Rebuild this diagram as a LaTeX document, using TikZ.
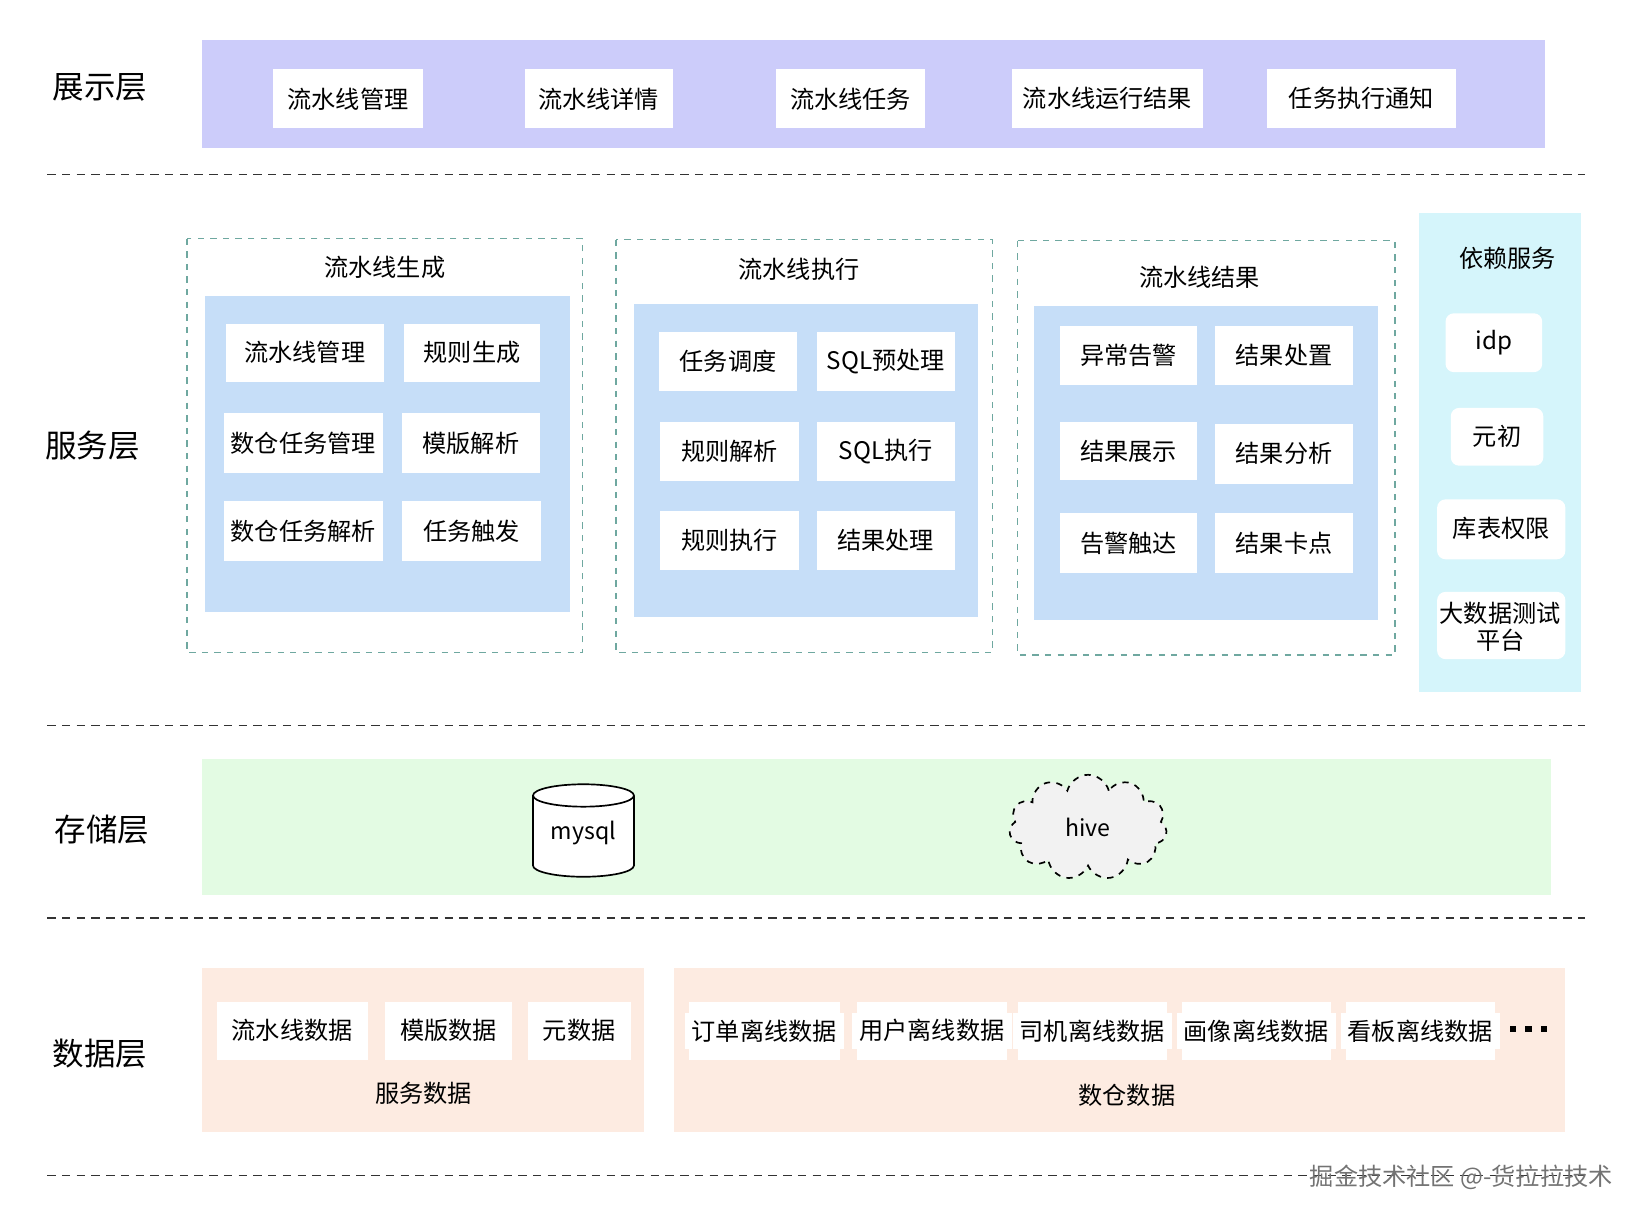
\documentclass[tikz,border=0pt]{standalone}
\usepackage{fontspec}
\setmainfont{Noto Sans CJK SC}
\usetikzlibrary{shapes.geometric,shapes.symbols}
\definecolor{purp}{HTML}{CCCCFA}
\definecolor{lblue}{HTML}{C6DEF8}
\definecolor{cyanp}{HTML}{D5F5FB}
\definecolor{lgreen}{HTML}{E3FBE3}
\definecolor{lorange}{HTML}{FDEBE1}
\definecolor{teal}{HTML}{6FA8A0}
\begin{document}
\begin{tikzpicture}[x=0.5pt,y=-0.5pt,
  wb/.style={fill=white,draw=none,font=\fontsize{11.5}{13}\selectfont},
  layer/.style={font=\fontsize{15}{18}\selectfont},
  ttl/.style={font=\fontsize{11.5}{13}\selectfont},
  sep/.style={dashed,line width=0.7pt,dash pattern=on 4pt off 3pt,black!80},
  grp/.style={draw=teal,dashed,line width=0.6pt}]
\useasboundingbox (0,0) rectangle (1560,1157);
\newcommand{\bx}[6]{\fill[white] (#2,#4) rectangle (#3,#5); \node[wb,align=center] (#1) at ({(#2+#3)/2},{(#4+#5)/2}) {#6};}
% layer 1
\node[layer] (l1) at (95,83) {展示层};
\fill[purp] (192,38) rectangle (1470,141);
\bx{a1}{260}{402}{66}{122}{流水线管理}
\bx{a2}{499}{640}{66}{122}{流水线详情}
\bx{a3}{738}{880}{66}{122}{流水线任务}
\bx{a4}{963}{1144}{66}{122}{流水线运行结果}
\bx{a5}{1205}{1385}{66}{122}{任务执行通知}
\draw[sep] (45,166) -- (1508,166);
% layer 2
\node[layer] (l2) at (88,424) {服务层};
\draw[grp] (178,227) rectangle (554,621);
\draw[grp] (586,228) rectangle (944,621);
\draw[grp] (968,229) rectangle (1327,623);
\node[ttl] (g1) at (366,254) {流水线生成};
\node[ttl] (g2) at (760,256) {流水线执行};
\node[ttl] (g3) at (1141,264) {流水线结果};
\fill[lblue] (195,282) rectangle (542,582);
\fill[lblue] (603,289) rectangle (930,587);
\fill[lblue] (984,291) rectangle (1311,590);
\bx{b1}{215}{365}{308}{363}{流水线管理}
\bx{b2}{384}{514}{308}{363}{规则生成}
\bx{b3}{213}{364}{393}{450}{数仓任务管理}
\bx{b4}{382}{514}{393}{450}{模版解析}
\bx{b5}{213}{364}{477}{534}{数仓任务解析}
\bx{b6}{382}{515}{477}{534}{任务触发}
\bx{c1}{627}{758}{316}{372}{任务调度}
\bx{c2}{777}{908}{316}{372}{SQL预处理}
\bx{c3}{628}{760}{401}{458}{规则解析}
\bx{c4}{777}{908}{401}{458}{SQL执行}
\bx{c5}{628}{760}{486}{542}{规则执行}
\bx{c6}{777}{908}{486}{542}{结果处理}
\bx{d1}{1008}{1139}{310}{366}{异常告警}
\bx{d2}{1156}{1287}{310}{366}{结果处置}
\bx{d3}{1008}{1139}{401}{457}{结果展示}
\bx{d4}{1156}{1287}{403}{460}{结果分析}
\bx{d5}{1008}{1139}{488}{545}{告警触达}
\bx{d6}{1156}{1287}{488}{545}{结果卡点}
\fill[cyanp] (1350,203) rectangle (1504,658);
\node[ttl] (e0) at (1434,246) {依赖服务};
\fill[white,rounded corners=4pt] (1375,298) rectangle (1467,354);
\node[wb] (e1) at (1421,326) {idp};
\fill[white,rounded corners=4pt] (1380,388) rectangle (1468,443);
\node[wb] (e2) at (1424,415) {元初};
\fill[white,rounded corners=4pt] (1367,475) rectangle (1489,532);
\node[wb] (e3) at (1428,503) {库表权限};
\fill[white,rounded corners=4pt] (1367,563) rectangle (1489,627);
\node[wb,align=center,inner sep=0pt] (e4) at (1427,596) {大数据测试\\平台};
\draw[sep] (45,690) -- (1508,690);
% layer 3
\node[layer] (l3) at (97,789) {存储层};
\fill[lgreen] (192,722) rectangle (1475,851);
\node[cylinder,shape border rotate=90,draw,thick,fill=white,minimum width=48pt,minimum height=44pt,aspect=1.6,anchor=shape center] (m) at (555,790) {};
\node[font=\fontsize{11}{13}\selectfont] (mt) at (555,792) {mysql};
\node[cloud,cloud puffs=11,aspect=1.6,draw,dashed,thick,fill=black!5,minimum width=75pt,minimum height=50pt,font=\fontsize{11}{13}\selectfont] (h) at (1035,787) {hive};
\draw[sep] (45,873) -- (1508,873);
% layer 4
\node[layer] (l4) at (95,1002) {数据层};
\fill[lorange] (192,921) rectangle (613,1077);
\fill[lorange] (641,921) rectangle (1489,1077);
\bx{f1}{206}{350}{953}{1008}{流水线数据}
\bx{f2}{366}{487}{953}{1008}{模版数据}
\bx{f3}{502}{600}{953}{1008}{元数据}
\bx{f4}{655}{799}{953}{1008}{订单离线数据}
\bx{f5}{815}{958}{953}{1008}{用户离线数据}
\bx{f6}{968}{1110}{953}{1008}{司机离线数据}
\bx{f7}{1124}{1266}{953}{1008}{画像离线数据}
\bx{f8}{1280}{1422}{953}{1008}{看板离线数据}
\foreach \x in {1439,1454,1469} \fill (\x-3,976) rectangle (\x+3,982);
\node[ttl] (s1) at (403,1040) {服务数据};
\node[ttl] (s2) at (1072,1042) {数仓数据};
\draw[sep] (45,1118) -- (1508,1118);
\node[font=\fontsize{11.5}{13}\selectfont,text=black!55] (wm) at (1390,1120) {掘金技术社区 @-货拉拉技术};
\end{tikzpicture}
\end{document}
